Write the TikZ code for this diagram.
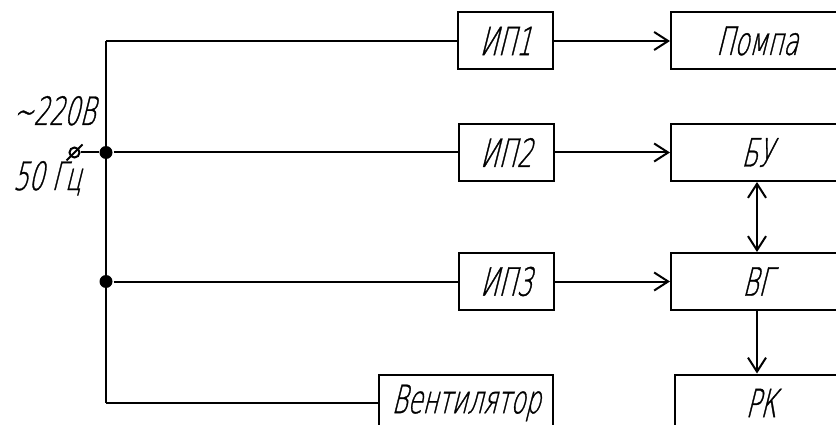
\documentclass[tikz,border=0pt]{standalone}
\usepackage{fontspec}
\newfontfamily\gost[FakeSlant=0.25,FakeStretch=0.62,FakeBold=0.8]{DejaVu Sans ExtraLight}
\usetikzlibrary{arrows.meta,calc}
\begin{document}
\begin{tikzpicture}[x=1pt,y=-1pt,
  line width=2pt,
  txt/.style={font=\gost\fontsize{39}{42}\selectfont,inner sep=0pt},
  blk/.style={draw,txt,minimum height=57pt},
  small/.style={blk,minimum width=95pt},
  big/.style={blk,minimum width=172pt},
  barb/.tip={Straight Barb[length=14pt,width=18pt,line width=2pt]},
  arr/.style={-barb},
  darr/.style={barb-barb},
  dot/.style={circle,fill,inner sep=0pt,minimum size=13pt}]
\useasboundingbox (0,0) rectangle (836,425);
\node[small] (ip1) at (505.5,41) {ИП1};
\node[small] (ip2) at (506,152.5) {ИП2};
\node[small] (ip3) at (506,281.5) {ИП3};
\node[big] (pompa) at (757,41) {Помпа};
\node[big] (bu) at (757,152.5) {БУ};
\node[big] (vg) at (757,281.5) {ВГ};
\node[big] (rk) at (761,403) {РК};
\node[blk,minimum width=174pt] (vent) at (466,403) {Вентилятор};
\coordinate (top) at (106,41);
\coordinate (bot) at (106,403);
\node[dot] (j1) at (106,152.5) {};
\node[dot] (j2) at (106,281.5) {};
\node[circle,draw,line width=2pt,inner sep=0pt,minimum size=10pt] (term) at (74.5,152.5) {};
\draw[line width=2pt] ($(term)+(-8,8)$) -- ($(term)+(8,-8)$);
\draw (top) -- (bot);
\draw (top) -- (ip1.west);
\draw (term.east) -- (j1) -- (ip2.west);
\draw (j2) -- (ip3.west);
\draw (bot) -- (vent.west);
\draw[arr] (ip1.east) -- (pompa.west);
\draw[arr] (ip2.east) -- (bu.west);
\draw[arr] (ip3.east) -- (vg.west);
\draw[arr] (vg.south) -- (vg.south |- rk.north);
\draw[darr] (bu.south) -- (vg.north);
\node[txt,anchor=base west] (v220) at (12,125) {\symbol{126}220В};
\node[txt,anchor=base west] (hz) at (12,190) {50 Гц};
\end{tikzpicture}
\end{document}
